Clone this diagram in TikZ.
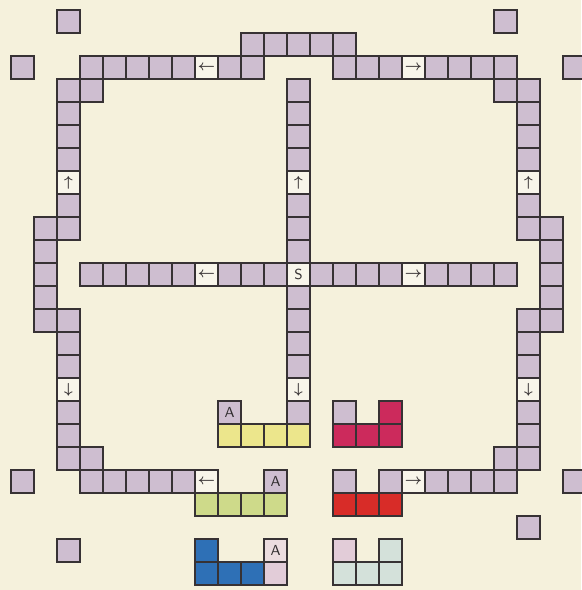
\documentclass[tikz,border=0pt]{standalone}
\usepackage{tikz}
\definecolor{paper}{RGB}{245,241,220}
\definecolor{lav}{RGB}{206,190,208}
\definecolor{pale}{RGB}{248,245,234}
\definecolor{edge}{RGB}{55,50,52}
\definecolor{ylw}{RGB}{236,230,140}
\definecolor{mag}{RGB}{204,42,92}
\definecolor{grn}{RGB}{206,218,138}
\definecolor{rd}{RGB}{216,44,40}
\definecolor{blu}{RGB}{46,112,182}
\definecolor{lblu}{RGB}{212,225,218}
\definecolor{pink}{RGB}{226,204,216}
\tikzset{
  cell/.style={draw=edge, line width=0.9pt, fill=lav, minimum size=0.5cm, inner sep=0pt, outer sep=0pt, anchor=north west},
  signcell/.style={cell, fill=pale, font=\small\boldmath\sffamily, text=edge},
  lettercell/.style={cell, font=\small\sffamily, text=edge!90!black},
}
\begin{document}
\begin{tikzpicture}[x=0.5cm,y=0.5cm]
\fill[paper] (-0.478,0.435) rectangle (24.783,-25.217);
\useasboundingbox (-0.478,0.435) rectangle (24.783,-25.217);
% plain lavender path cells
\foreach \i/\j in {
 10/1,11/1,12/1,13/1,14/1,
 3/2,4/2,5/2,6/2,7/2,9/2,10/2,14/2,15/2,16/2,18/2,19/2,20/2,21/2,
 2/3,3/3,12/3,21/3,22/3,
 2/4,12/4,22/4, 2/5,12/5,22/5, 2/6,12/6,22/6,
 2/8,12/8,22/8,
 1/9,2/9,12/9,22/9,23/9,
 1/10,12/10,23/10,
 1/11,3/11,4/11,5/11,6/11,7/11,9/11,10/11,11/11,13/11,14/11,15/11,16/11,18/11,19/11,20/11,21/11,23/11,
 1/12,12/12,23/12,
 1/13,2/13,12/13,22/13,23/13,
 2/14,12/14,22/14, 2/15,12/15,22/15,
 2/17,12/17,22/17,
 2/18,22/18,
 2/19,3/19,21/19,22/19,
 3/20,4/20,5/20,6/20,7/20,16/20,18/20,19/20,20/20,21/20,
 14/17,14/20,
 2/0,21/0,0/2,24/2,0/20,24/20,22/22,2/23}
  \node[cell] (c\i-\j) at (\i,-\j) {};
% arrow and start cells
\node[signcell] (c8-2) at (8,-2) {$\leftarrow$};
\node[signcell] (c17-2) at (17,-2) {$\rightarrow$};
\node[signcell] (c2-7) at (2,-7) {$\uparrow$};
\node[signcell] (c12-7) at (12,-7) {$\uparrow$};
\node[signcell] (c22-7) at (22,-7) {$\uparrow$};
\node[signcell] (c8-11) at (8,-11) {$\leftarrow$};
\node[signcell] (c12-11) at (12,-11) {S};
\node[signcell] (c17-11) at (17,-11) {$\rightarrow$};
\node[signcell] (c2-16) at (2,-16) {$\downarrow$};
\node[signcell] (c12-16) at (12,-16) {$\downarrow$};
\node[signcell] (c22-16) at (22,-16) {$\downarrow$};
\node[signcell] (c8-20) at (8,-20) {$\leftarrow$};
\node[signcell] (c17-20) at (17,-20) {$\rightarrow$};
% A cells
\node[lettercell] (c9-17) at (9,-17) {A};
\node[lettercell] (c11-20) at (11,-20) {A};
\node[lettercell, fill=pink!60!pale] (c11-23) at (11,-23) {A};
% coloured pieces
\foreach \i in {9,10,11,12} \node[cell, fill=ylw] (c\i-18) at (\i,-18) {};
\node[cell, fill=mag] (c16-17) at (16,-17) {};
\foreach \i in {14,15,16} \node[cell, fill=mag] (c\i-18) at (\i,-18) {};
\foreach \i in {8,9,10,11} \node[cell, fill=grn] (c\i-21) at (\i,-21) {};
\foreach \i in {14,15,16} \node[cell, fill=rd] (c\i-21) at (\i,-21) {};
\node[cell, fill=blu] (c8-23) at (8,-23) {};
\foreach \i in {8,9,10} \node[cell, fill=blu] (c\i-24) at (\i,-24) {};
\node[cell, fill=pink] (c11-24) at (11,-24) {};
\node[cell, fill=pink] (c14-23) at (14,-23) {};
\node[cell, fill=lblu] (c16-23) at (16,-23) {};
\foreach \i in {14,15,16} \node[cell, fill=lblu] (c\i-24) at (\i,-24) {};
\end{tikzpicture}
\end{document}
